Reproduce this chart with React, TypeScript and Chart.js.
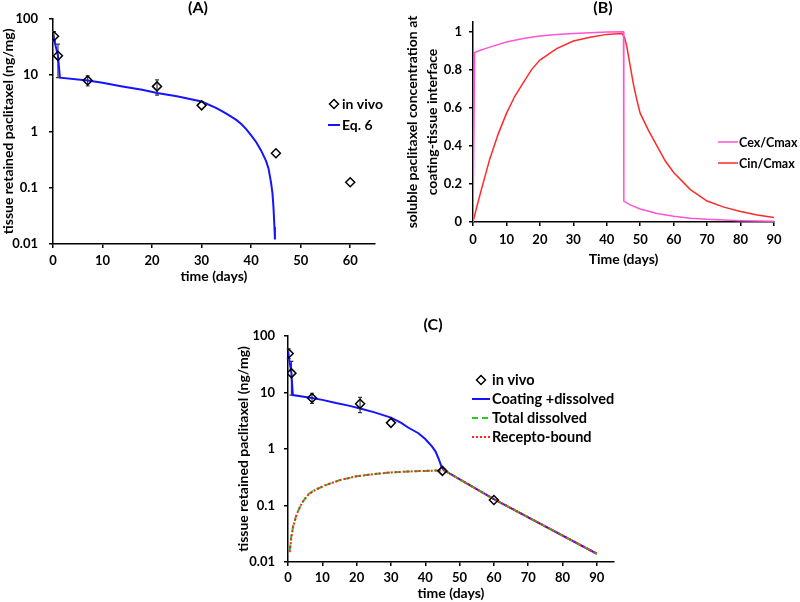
import React, { useEffect, useRef } from 'react';
import { Chart, registerables } from 'chart.js';

Chart.register(...registerables);

const FONT = 'Lato, "Open Sans", sans-serif';

// ---------------- data ----------------
const logTickValues = [0.01, 0.1, 1, 10, 100];

// in vivo measurements (panels A and C)
const inVivoDays = [0.2, 1, 7, 21, 30, 45, 60];
const inVivoValues = [49, 22, 8.0, 6.3, 2.9, 0.41, 0.125];
const inVivoErrMinus = [9, 13, 1.6, 1.9, 0, 0, 0];
const inVivoErrPlus = [10, 13.5, 1.7, 1.9, 0, 0, 0];

// Panel A: Eq. 6
const eq6Days = [0, 1, 1.4, 7, 10, 14, 18, 21, 25, 30, 33, 35, 37, 38, 39, 40, 41, 42, 43, 43.5, 44, 44.3, 44.5, 44.7, 44.8];
const eq6Values = [52, 22, 9.0, 8.0, 7.3, 6.3, 5.5, 4.8, 4.2, 3.4, 2.6, 2.06, 1.6, 1.35, 1.1, 0.85, 0.65, 0.46, 0.3, 0.22, 0.126, 0.08, 0.046, 0.02, 0.012];

// Panel B: normalised concentrations
const cexDays = [0, 0.5, 2, 5, 10, 15, 20, 25, 30, 35, 40, 45, 45.1, 47, 50, 55, 60, 65, 70, 75, 80, 85, 90];
const cexValues = [0, 0.89, 0.9, 0.918, 0.945, 0.963, 0.976, 0.985, 0.99, 0.994, 0.997, 0.999, 0.11, 0.09, 0.068, 0.045, 0.03, 0.02, 0.014, 0.01, 0.007, 0.005, 0.004];
const cinDays = [0, 1, 2.5, 5, 7.5, 10, 12.5, 15, 17.5, 20, 25, 30, 35, 40, 44.5, 45.3, 46, 47, 48, 49, 50, 52.5, 55, 57.5, 60, 65, 70, 75, 80, 85, 90];
const cinValues = [0, 0.07, 0.17, 0.33, 0.46, 0.57, 0.66, 0.73, 0.8, 0.85, 0.91, 0.95, 0.97, 0.985, 0.99, 0.97, 0.92, 0.82, 0.72, 0.64, 0.57, 0.48, 0.4, 0.32, 0.26, 0.17, 0.11, 0.078, 0.055, 0.037, 0.023];
const fractionTickLabels = ['0', '0.2', '0.4', '0.6', '0.8', '1'];

// Panel C
const coatingDays = [0, 1, 1.4, 7, 10, 14, 18, 21, 25, 30, 33, 35, 38, 40, 42, 43, 44, 44.8, 45.5, 60, 90];
const coatingValues = [52, 22, 9.0, 8.0, 7.4, 6.5, 5.8, 5.2, 4.5, 3.6, 2.9, 2.4, 1.9, 1.5, 1.1, 0.9, 0.65, 0.47, 0.42, 0.13, 0.014];
const dissolvedDays = [0.5, 1, 1.5, 2.5, 4, 6, 8, 11, 15, 20, 25, 30, 35, 40, 45.5, 60, 90];
const dissolvedValues = [0.016, 0.03, 0.043, 0.07, 0.11, 0.16, 0.19, 0.23, 0.28, 0.33, 0.36, 0.385, 0.4, 0.41, 0.42, 0.13, 0.014];
const boundDays = [0.5, 1, 1.5, 2.5, 4, 6, 8, 11, 15, 20, 25, 30, 35, 40, 45.5, 60, 90];
const boundValues = [0.015, 0.028, 0.042, 0.069, 0.11, 0.158, 0.19, 0.23, 0.28, 0.33, 0.36, 0.385, 0.4, 0.41, 0.42, 0.13, 0.014];

const xy = (xs: number[], ys: number[]) => xs.map((x, i) => ({ x, y: ys[i] }));

// ---------------- plugins ----------------
function diamond(ctx: CanvasRenderingContext2D, x: number, y: number, r: number) {
  ctx.beginPath();
  ctx.moveTo(x, y - r);
  ctx.lineTo(x + r, y);
  ctx.lineTo(x, y + r);
  ctx.lineTo(x - r, y);
  ctx.closePath();
  ctx.stroke();
}

const errorBarPlugin = {
  id: 'errorBars',
  beforeDatasetsDraw(chart: any) {
    const ctx = chart.ctx;
    const xs = chart.scales.x;
    const ys = chart.scales.y;
    chart.data.datasets.forEach((ds: any) => {
      if (!ds.errMinus) return;
      ctx.save();
      ctx.strokeStyle = '#3a3a3a';
      ctx.lineWidth = 1.2;
      ds.data.forEach((p: any, i: number) => {
        const lo = ds.errMinus[i];
        const hi = ds.errPlus[i];
        if (!lo && !hi) return;
        const px = xs.getPixelForValue(p.x);
        const y1 = ys.getPixelForValue(p.y - lo);
        const y2 = ys.getPixelForValue(p.y + hi);
        ctx.beginPath();
        ctx.moveTo(px, y1);
        ctx.lineTo(px, y2);
        ctx.moveTo(px - 2, y1);
        ctx.lineTo(px + 2, y1);
        ctx.moveTo(px - 2, y2);
        ctx.lineTo(px + 2, y2);
        ctx.stroke();
      });
      ctx.restore();
    });
  },
};

const insetPlugin = {
  id: 'inset',
  afterDraw(chart: any, _args: any, opts: any) {
    if (!opts || !opts.items) return;
    const ctx = chart.ctx;
    ctx.save();
    // panel title
    ctx.fillStyle = '#000';
    ctx.textAlign = 'center';
    ctx.textBaseline = 'middle';
    ctx.font = `bold 16px ${FONT}`;
    ctx.fillText(opts.title, opts.titleX, opts.titleY);
    // legend
    ctx.font = `bold ${opts.fontSize}px ${FONT}`;
    ctx.textAlign = 'left';
    opts.items.forEach((idx: number, i: number) => {
      const ds = chart.data.datasets[idx];
      const y = opts.y + i * opts.rowHeight;
      const x0 = opts.x;
      const x1 = opts.x + opts.lineLength;
      ctx.save();
      if (ds.showLine === false) {
        ctx.strokeStyle = '#000';
        ctx.lineWidth = 1.5;
        diamond(ctx, (x0 + x1) / 2, y, 4.5);
      } else {
        ctx.strokeStyle = ds.borderColor;
        ctx.lineWidth = ds.borderWidth;
        ctx.setLineDash(ds.borderDash || []);
        ctx.beginPath();
        ctx.moveTo(x0, y);
        ctx.lineTo(x1, y);
        ctx.stroke();
      }
      ctx.restore();
      ctx.fillStyle = '#000';
      ctx.fillText(ds.label, x1 + opts.gap, y + 0.5);
    });
    ctx.restore();
  },
};

// ---------------- helpers ----------------
const tickFont = { family: FONT, size: 13, weight: 'bold' as const };
const titleFont = { family: FONT, size: 14, weight: 'bold' as const };

function gridOpts() {
  return { display: true, drawOnChartArea: false, drawTicks: true, tickLength: 4, color: '#000', lineWidth: 1.5 };
}

function inVivoDataset() {
  return {
    label: 'in vivo',
    data: xy(inVivoDays, inVivoValues),
    errMinus: inVivoErrMinus,
    errPlus: inVivoErrPlus,
    showLine: false,
    pointStyle: 'rectRot',
    pointRadius: 4.5,
    pointBorderColor: '#000',
    pointBackgroundColor: 'rgba(255,255,255,0)',
    pointBorderWidth: 1.5,
    borderColor: '#000',
    order: 0,
  };
}

function lineDs(label: string, xs: number[], ys: number[], color: string, width: number, dash: number[], order: number) {
  return {
    label,
    data: xy(xs, ys),
    showLine: true,
    borderColor: color,
    backgroundColor: color,
    borderWidth: width,
    borderDash: dash,
    pointRadius: 0,
    tension: 0,
    order,
  };
}

function logY(width: number, pad: number, titlePadTop: number) {
  return {
    type: 'logarithmic',
    min: 0.01,
    max: 100,
    afterBuildTicks: (s: any) => {
      s.ticks = logTickValues.map((value) => ({ value }));
    },
    afterFit: (s: any) => {
      s.width = width;
    },
    ticks: { font: tickFont, color: '#000', padding: pad, callback: (v: any) => String(v) },
    grid: gridOpts(),
    border: { display: true, color: '#000', width: 1.5 },
    title: { display: true, text: 'tissue retained paclitaxel (ng/mg)', font: titleFont, color: '#000', padding: { top: titlePadTop, bottom: 0 } },
  };
}

function linX(max: number, height: number, text: string, pad: number) {
  return {
    type: 'linear',
    min: 0,
    max,
    afterFit: (s: any) => {
      s.height = height;
    },
    ticks: { stepSize: 10, includeBounds: false, font: tickFont, color: '#000', padding: pad, maxRotation: 0 },
    grid: gridOpts(),
    border: { display: true, color: '#000', width: 1.5 },
    title: { display: true, text, font: titleFont, color: '#000', padding: { top: 0, bottom: 0 } },
  };
}

// ---------------- configs ----------------
function configA(): any {
  return {
    type: 'scatter',
    data: {
      datasets: [inVivoDataset(), lineDs('Eq. 6', eq6Days, eq6Values, '#1414ff', 2, [], 1)],
    },
    options: {
      responsive: false,
      animation: false,
      layout: { padding: { top: 18, right: 25, left: 0, bottom: 0 } },
      scales: { x: linX(65, 41, 'time (days)', 5), y: logY(53, 11, 0) },
      plugins: {
        legend: { display: false },
        tooltip: { enabled: false },
        inset: { title: '(A)', titleX: 198, titleY: 8, items: [0, 1], x: 328, y: 104, rowHeight: 21, lineLength: 12, gap: 2, fontSize: 14 },
      },
    },
    plugins: [errorBarPlugin, insetPlugin],
  };
}

function configB(): any {
  return {
    type: 'scatter',
    data: {
      datasets: [
        lineDs('Cex/Cmax', cexDays, cexValues, '#ff55d4', 1.5, [], 1),
        lineDs('Cin/Cmax', cinDays, cinValues, '#ff2a2a', 1.5, [], 2),
      ],
    },
    options: {
      responsive: false,
      animation: false,
      layout: { padding: { top: 22, right: 26, left: 0, bottom: 0 } },
      scales: {
        x: linX(90, 46, 'Time (days)', 6),
        y: {
          type: 'linear',
          min: 0,
          max: 1.05,
          afterFit: (s: any) => {
            s.width = 73;
          },
          ticks: {
            stepSize: 0.2,
            includeBounds: false,
            font: tickFont,
            color: '#000',
            padding: 7,
            callback: (_v: any, i: number) => fractionTickLabels[i],
          },
          grid: gridOpts(),
          border: { display: true, color: '#000', width: 1.5 },
          title: {
            display: true,
            text: ['soluble paclitaxel concentration at', 'coating-tissue interface'],
            font: { ...titleFont, lineHeight: 1.43 },
            color: '#000',
            padding: { top: 2, bottom: 0 },
          },
        },
      },
      plugins: {
        legend: { display: false },
        tooltip: { enabled: false },
        inset: { title: '(B)', titleX: 203, titleY: 8, items: [0, 1], x: 318, y: 142, rowHeight: 21, lineLength: 20, gap: 1, fontSize: 12.5 },
      },
    },
    plugins: [insetPlugin],
  };
}

function configC(): any {
  return {
    type: 'scatter',
    data: {
      datasets: [
        inVivoDataset(),
        lineDs('Coating +dissolved', coatingDays, coatingValues, '#1414ff', 2, [], 3),
        lineDs('Total dissolved', dissolvedDays, dissolvedValues, '#22cc22', 2, [6, 4], 2),
        lineDs('Recepto-bound', boundDays, boundValues, '#ff2020', 2, [2, 2], 1),
      ],
    },
    options: {
      responsive: false,
      animation: false,
      layout: { padding: { top: 36, right: 26, left: 0, bottom: 0 } },
      scales: { x: linX(95, 40, 'time (days)', 4), y: logY(58, 9, 5) },
      plugins: {
        legend: { display: false },
        tooltip: { enabled: false },
        inset: { title: '(C)', titleX: 203, titleY: 25, items: [0, 1, 2, 3], x: 242, y: 80, rowHeight: 19, lineLength: 18, gap: 2, fontSize: 14.5 },
      },
    },
    plugins: [errorBarPlugin, insetPlugin],
  };
}

function Panel({ left, top, width, height, make }: { left: number; top: number; width: number; height: number; make: () => any }) {
  const ref = useRef<HTMLCanvasElement | null>(null);
  useEffect(() => {
    if (!ref.current) return;
    const chart = new Chart(ref.current, make());
    return () => chart.destroy();
  }, [make]);
  return (
    <canvas
      ref={ref}
      width={width}
      height={height}
      style={{ position: 'absolute', left, top, width, height, display: 'block' }}
    />
  );
}

export default function App() {
  return (
    <div style={{ position: 'fixed', left: 0, top: 0, width: 800, height: 602, background: '#fff', overflow: 'hidden' }}>
      <Panel left={0} top={0} width={400} height={285} make={configA} />
      <Panel left={400} top={0} width={400} height={268} make={configB} />
      <Panel left={230} top={300} width={410} height={302} make={configC} />
    </div>
  );
}
